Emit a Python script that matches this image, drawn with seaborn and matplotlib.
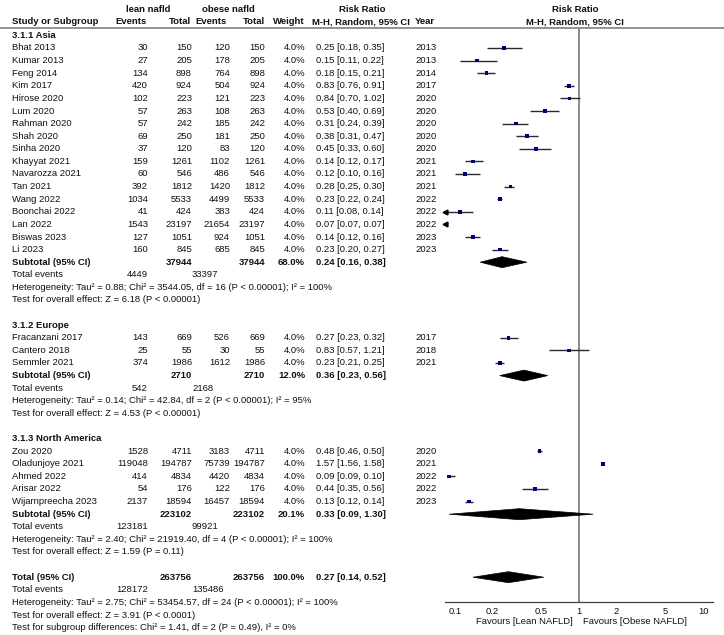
import numpy as np
import pandas as pd
import seaborn as sns
import matplotlib.pyplot as plt
from matplotlib.ticker import NullLocator
from matplotlib.patches import Polygon

# study level data
studies = ["Bhat 2013", "Kumar 2013", "Feng 2014", "Kim 2017", "Hirose 2020", "Lum 2020",
           "Rahman 2020", "Shah 2020", "Sinha 2020", "Khayyat 2021", "Navarozza 2021", "Tan 2021",
           "Wang 2022", "Boonchai 2022", "Lan 2022", "Biswas 2023", "Li 2023",
           "Fracanzani 2017", "Cantero 2018", "Semmler 2021",
           "Zou 2020", "Oladunjoye 2021", "Ahmed 2022", "Arisar 2022", "Wijarnpreecha 2023"]
region = ["Asia"] * 17 + ["Europe"] * 3 + ["North America"] * 5
lean_events = [30, 27, 134, 420, 102, 57, 57, 69, 37, 159, 60, 392, 1034, 41, 1543, 127, 160,
               143, 25, 374, 1528, 119048, 414, 54, 2137]
lean_total = [150, 205, 898, 924, 223, 263, 242, 250, 120, 1261, 546, 1812, 5533, 424, 23197, 1051, 845,
              669, 55, 1986, 4711, 194787, 4834, 176, 18594]
obese_events = [120, 178, 764, 504, 121, 108, 185, 181, 83, 1102, 486, 1420, 4499, 383, 21654, 924, 685,
                526, 30, 1612, 3183, 75739, 4420, 122, 16457]
obese_total = lean_total
weight = ["4.0%"] * 25
rr = [0.25, 0.15, 0.18, 0.83, 0.84, 0.53, 0.31, 0.38, 0.45, 0.14, 0.12, 0.28, 0.23, 0.11, 0.07, 0.14, 0.23,
      0.27, 0.83, 0.23, 0.48, 1.57, 0.09, 0.44, 0.13]
ci_lo = [0.18, 0.11, 0.15, 0.76, 0.70, 0.40, 0.24, 0.31, 0.33, 0.12, 0.10, 0.25, 0.22, 0.08, 0.07, 0.12, 0.20,
         0.23, 0.57, 0.21, 0.46, 1.56, 0.09, 0.35, 0.12]
ci_hi = [0.35, 0.22, 0.21, 0.91, 1.02, 0.69, 0.39, 0.47, 0.60, 0.17, 0.16, 0.30, 0.24, 0.14, 0.07, 0.16, 0.27,
         0.32, 1.21, 0.25, 0.50, 1.58, 0.10, 0.56, 0.14]
year = [2013, 2013, 2014, 2017, 2020, 2020, 2020, 2020, 2020, 2021, 2021, 2021, 2022, 2022, 2022, 2023, 2023,
        2017, 2018, 2021, 2020, 2021, 2022, 2022, 2023]

# subgroup summaries
groups = ["3.1.1 Asia", "3.1.2 Europe", "3.1.3 North America"]
group_keys = ["Asia", "Europe", "North America"]
sub_lean_total = [37944, 2710, 223102]
sub_obese_total = [37944, 2710, 223102]
sub_weight = ["68.0%", "12.0%", "20.1%"]
sub_rr = [0.24, 0.36, 0.33]
sub_lo = [0.16, 0.23, 0.09]
sub_hi = [0.38, 0.56, 1.30]
sub_lean_events = [4449, 542, 123181]
sub_obese_events = [33397, 2168, 99921]
sub_het = ["Heterogeneity: Tau\u00b2 = 0.88; Chi\u00b2 = 3544.05, df = 16 (P < 0.00001); I\u00b2 = 100%",
           "Heterogeneity: Tau\u00b2 = 0.14; Chi\u00b2 = 42.84, df = 2 (P < 0.00001); I\u00b2 = 95%",
           "Heterogeneity: Tau\u00b2 = 2.40; Chi\u00b2 = 21919.40, df = 4 (P < 0.00001); I\u00b2 = 100%"]
sub_z = ["Test for overall effect: Z = 6.18 (P < 0.00001)",
         "Test for overall effect: Z = 4.53 (P < 0.00001)",
         "Test for overall effect: Z = 1.59 (P = 0.11)"]

# overall
tot_lean_total, tot_obese_total, tot_weight = 263756, 263756, "100.0%"
tot_rr, tot_lo, tot_hi = 0.27, 0.14, 0.52
tot_lean_events, tot_obese_events = 128172, 135486
tot_het = "Heterogeneity: Tau\u00b2 = 2.75; Chi\u00b2 = 53454.57, df = 24 (P < 0.00001); I\u00b2 = 100%"
tot_z = "Test for overall effect: Z = 3.91 (P < 0.0001)"
subgroup_test = "Test for subgroup differences: Chi\u00b2 = 1.41, df = 2 (P = 0.49), I\u00b2 = 0%"

ticks = [0.1, 0.2, 0.5, 1, 2, 5, 10]
tick_labels = ["0.1", "0.2", "0.5", "1", "2", "5", "10"]

df = pd.DataFrame({"study": studies, "region": region, "lean_ev": lean_events, "lean_n": lean_total,
                   "obese_ev": obese_events, "obese_n": obese_total, "wt": weight, "rr": rr,
                   "ci_lo": ci_lo, "ci_hi": ci_hi, "year": year})

sns.set_style("white")
plt.rcParams['font.family'] = ['Liberation Sans', 'DejaVu Sans']
FS = 6.8

W, H = 724, 635
fig = plt.figure(figsize=(7.24, 6.35), dpi=100)
ax = fig.add_axes([0, 0, 1, 1])
ax.set_xlim(0, W)
ax.set_ylim(H, 0)
ax.axis('off')

# forest panel, y in the same pixel rows as the table
top, bottom = 28, 602
ax_f = fig.add_axes([445 / W, 1 - bottom / H, (713 - 445) / W, (bottom - top) / H])
ax_f.set_xscale('log')
xmin, xmax = 1 / 12, 12
ax_f.set_xlim(xmin, xmax)
ax_f.set_ylim(bottom, top)
ax_f.patch.set_alpha(0)

# column positions
X_NAME, X_LE, X_LT, X_OE, X_OT, X_W, X_RR, X_YR = 12, 148, 192, 230, 265, 305, 316, 415


def txt(x, y, s, ha="left", bold=False):
    ax.text(x, y, s, ha=ha, va="center", fontsize=FS, fontweight="bold" if bold else "normal",
            color="#111111")


# header
txt(148, 9, "lean nafld", ha="center", bold=True)
txt(228, 9, "obese nafld", ha="center", bold=True)
txt(362, 9, "Risk Ratio", ha="center", bold=True)
txt(575, 9, "Risk Ratio", ha="center", bold=True)
txt(X_NAME, 22, "Study or Subgroup", bold=True)
txt(147, 22, "Events", ha="right", bold=True)
txt(191, 22, "Total", ha="right", bold=True)
txt(227, 22, "Events", ha="right", bold=True)
txt(265, 22, "Total", ha="right", bold=True)
txt(305, 22, "Weight", ha="right", bold=True)
txt(312, 22, "M-H, Random, 95% CI", bold=True)
txt(X_YR, 22, "Year", bold=True)
txt(575, 22, "M-H, Random, 95% CI", ha="center", bold=True)
ax.axhline(28, color="#808080", lw=1.2)

y0, step = 35.4, 12.6
row = 0
points = []


def diamond(y, est, lo, hi, h=5.5):
    ax_f.add_patch(Polygon([(lo, y), (est, y - h), (hi, y), (est, y + h)], closed=True,
                           facecolor="black", edgecolor="black", lw=0.5, zorder=4, clip_on=False))


for g, key in enumerate(group_keys):
    txt(X_NAME, y0 + row * step, groups[g], bold=True)
    row += 1
    sub = df[df.region == key]
    for r in sub.itertuples():
        y = y0 + row * step
        txt(X_NAME, y, r.study)
        txt(X_LE, y, f"{r.lean_ev}", ha="right")
        txt(X_LT, y, f"{r.lean_n}", ha="right")
        txt(X_OE, y, f"{r.obese_ev}", ha="right")
        txt(X_OT, y, f"{r.obese_n}", ha="right")
        txt(X_W, y, r.wt, ha="right")
        txt(X_RR, y, f"{r.rr:.2f} [{r.ci_lo:.2f}, {r.ci_hi:.2f}]")
        txt(X_YR, y, f"{r.year}")
        if r.ci_hi > xmin:
            ax_f.hlines(y, max(r.ci_lo, xmin), min(r.ci_hi, xmax), color="#2a2a2a", lw=1.0, zorder=2)
        if r.ci_lo < xmin:
            ax_f.plot(xmin, y, marker="<", color="black", ms=3.5, clip_on=False, zorder=3)
        if r.rr >= xmin:
            points.append((r.rr, y))
        row += 1
    y = y0 + row * step
    txt(X_NAME, y, "Subtotal (95% CI)", bold=True)
    txt(X_LT, y, f"{sub_lean_total[g]}", ha="right", bold=True)
    txt(X_OT, y, f"{sub_obese_total[g]}", ha="right", bold=True)
    txt(X_W, y, sub_weight[g], ha="right", bold=True)
    txt(X_RR, y, f"{sub_rr[g]:.2f} [{sub_lo[g]:.2f}, {sub_hi[g]:.2f}]", bold=True)
    diamond(y, sub_rr[g], sub_lo[g], sub_hi[g])
    row += 1
    y = y0 + row * step
    txt(X_NAME, y, "Total events")
    txt(X_LE, y, f"{sub_lean_events[g]}", ha="right")
    txt(192, y, f"{sub_obese_events[g]}")
    row += 1
    txt(X_NAME, y0 + row * step, sub_het[g])
    row += 1
    txt(X_NAME, y0 + row * step, sub_z[g])
    row += 2

y = y0 + row * step
txt(X_NAME, y, "Total (95% CI)", bold=True)
txt(X_LT, y, f"{tot_lean_total}", ha="right", bold=True)
txt(X_OT, y, f"{tot_obese_total}", ha="right", bold=True)
txt(X_W, y, tot_weight, ha="right", bold=True)
txt(X_RR, y, f"{tot_rr:.2f} [{tot_lo:.2f}, {tot_hi:.2f}]", bold=True)
diamond(y, tot_rr, tot_lo, tot_hi)
row += 1
y = y0 + row * step
txt(X_NAME, y, "Total events")
txt(X_LE, y, f"{tot_lean_events}", ha="right")
txt(192, y, f"{tot_obese_events}")
row += 1
txt(X_NAME, y0 + row * step, tot_het)
row += 1
txt(X_NAME, y0 + row * step, tot_z)
row += 1
txt(X_NAME, y0 + row * step, subgroup_test)

pts = pd.DataFrame(points, columns=["rr", "y"])
sns.scatterplot(data=pts, x="rr", y="y", marker="s", s=7, color="#00007a", edgecolor="none",
                ax=ax_f, zorder=5, legend=False)

ax_f.axvline(1, color="#808080", lw=1.3, zorder=1)
for s in ["top", "right", "left"]:
    ax_f.spines[s].set_visible(False)
ax_f.spines["bottom"].set_color("#404040")
ax_f.spines["bottom"].set_linewidth(0.9)
ax_f.set_xticks(ticks)
ax_f.set_xticklabels(tick_labels)
ax_f.xaxis.set_minor_locator(NullLocator())
ax_f.set_yticks([])
ax_f.tick_params(axis="x", direction="inout", length=6, width=0.8, color="#404040",
                 pad=0.5, labelsize=FS, labelcolor="#111111")
ax_f.set_xlabel("")
ax_f.set_ylabel("")

txt(573, 621, "Favours [Lean NAFLD]", ha="right")
txt(583, 621, "Favours [Obese NAFLD]")

fig.savefig("out.png", dpi=100)
